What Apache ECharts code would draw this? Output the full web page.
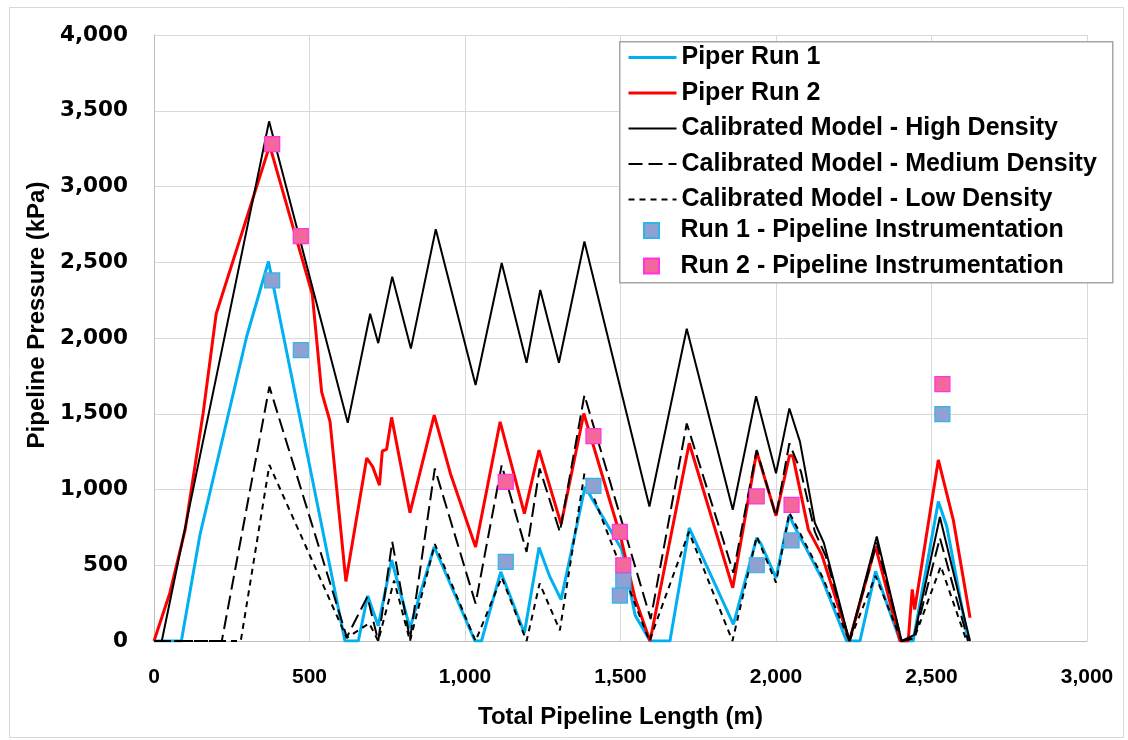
<!DOCTYPE html>
<html>
<head>
<meta charset="utf-8">
<script src="https://cdn.jsdelivr.net/npm/echarts@6/dist/echarts.min.js"></script>
<style>
html,body{margin:0;padding:0;background:#fff;}
#chart{width:1128px;height:740px;}
</style>
</head>
<body>
<div id="chart"></div>
<script>
// ---- data (x: total pipeline length m, y: pressure kPa) ----
const xTicks = [0, 500, 1000, 1500, 2000, 2500, 3000];
const yTicks = [0, 500, 1000, 1500, 2000, 2500, 3000, 3500, 4000];

const run1X = [0, 88, 148, 298, 368, 614, 657, 687, 721, 764, 823, 901, 1032, 1053, 1115, 1191, 1238, 1273, 1309, 1386, 1505, 1547, 1595, 1659, 1721, 1863, 1938, 1952, 2000, 2043, 2056, 2099, 2149, 2227, 2270, 2320, 2399, 2441, 2522, 2549, 2618];
const run1Y = [0, 0, 703, 2010, 2505, 0, 0, 299, 100, 535, 85, 622, 0, 0, 456, 53, 617, 423, 273, 1018, 600, 170, 0, 0, 746, 110, 680, 640, 417, 833, 768, 603, 406, 0, 0, 460, 0, 0, 921, 757, 0];

const run2X = [0, 51, 100, 158, 200, 372, 509, 539, 566, 617, 684, 703, 725, 734, 748, 764, 823, 901, 953, 1034, 1113, 1191, 1238, 1309, 1382, 1500, 1547, 1595, 1721, 1861, 1938, 2000, 2043, 2054, 2104, 2147, 2236, 2320, 2399, 2425, 2438, 2446, 2522, 2570, 2624];
const run2Y = [0, 317, 733, 1504, 2160, 3270, 2288, 1644, 1449, 393, 1208, 1151, 1029, 1254, 1265, 1476, 846, 1491, 1106, 621, 1447, 841, 1260, 771, 1502, 690, 280, 0, 1305, 351, 1250, 827, 1222, 1222, 735, 570, 0, 625, 0, 0, 340, 208, 1195, 800, 154];

const highX = [0, 25, 370, 623, 695, 721, 766, 826, 906, 1034, 1118, 1198, 1242, 1302, 1384, 1593, 1713, 1861, 1936, 2000, 2043, 2077, 2125, 2154, 2236, 2324, 2404, 2445, 2527, 2624];
const highY = [0, 0, 3430, 1440, 2160, 1966, 2405, 1930, 2718, 1690, 2495, 1837, 2317, 1837, 2637, 888, 2061, 866, 1616, 1107, 1535, 1316, 779, 647, 0, 690, 0, 40, 818, 0];

const medX = [0, 218, 371, 620, 686, 721, 766, 823, 903, 1034, 1118, 1198, 1240, 1305, 1384, 1597, 1713, 1863, 1938, 2000, 2043, 2080, 2125, 2160, 2236, 2324, 2404, 2445, 2527, 2618];
const medY = [0, 0, 1679, 25, 292, 0, 655, 10, 1139, 247, 1161, 588, 1139, 720, 1623, 145, 1436, 450, 1261, 822, 1305, 1120, 720, 560, 0, 650, 0, 20, 680, 0];

const lowX = [0, 279, 371, 620, 692, 721, 772, 823, 903, 1034, 1118, 1198, 1240, 1305, 1384, 1593, 1720, 1860, 1938, 2000, 2043, 2080, 2150, 2236, 2320, 2404, 2445, 2530, 2613];
const lowY = [0, 0, 1162, 20, 117, 0, 400, 0, 640, 0, 420, 0, 380, 70, 1106, 0, 720, 0, 690, 385, 847, 700, 420, 0, 430, 0, 20, 493, 0];

const inst1X = [380, 472, 1131, 1413, 1509, 1498, 1938, 2050, 2535];
const inst1Y = [2380, 1920, 522, 1024, 400, 300, 500, 664, 1498];
const inst2X = [380, 472, 1131, 1413, 1498, 1509, 1938, 2050, 2535];
const inst2Y = [3280, 2673, 1050, 1352, 720, 500, 954, 899, 1695];

const seriesNames = [
  'Piper Run 1', 'Piper Run 2',
  'Calibrated Model - High Density', 'Calibrated Model - Medium Density', 'Calibrated Model - Low Density',
  'Run 1 - Pipeline Instrumentation', 'Run 2 - Pipeline Instrumentation'
];

function pairs(xs, ys) { return xs.map((x, i) => [x, ys[i]]); }

const FONT = 'Liberation Sans';

const lineStyles = [
  { color: '#00B0F0', width: 3, type: 'solid' },
  { color: '#FF0000', width: 3, type: 'solid' },
  { color: '#000000', width: 2, type: 'solid' },
  { color: '#000000', width: 2, type: [14, 6] },
  { color: '#000000', width: 2, type: [6, 5] }
];

const lineSeries = (name, xs, ys, ls) => ({
  name, type: 'line', data: pairs(xs, ys), symbol: 'none', showSymbol: false,
  lineStyle: ls, itemStyle: { color: ls.color }, z: 2, animation: false
});
const scatterSeries = (name, xs, ys, fill, border) => ({
  name, type: 'scatter', data: pairs(xs, ys), symbol: 'rect', symbolSize: 15,
  itemStyle: { color: fill, borderColor: border, borderWidth: 1.2, opacity: 1 }, z: 5, animation: false
});

const legendText = { fontFamily: FONT, fontWeight: 'bold', fontSize: 25, color: '#000', lineHeight: 24 };

const chart = echarts.init(document.getElementById('chart'), null, { renderer: 'canvas' });
chart.setOption({
  backgroundColor: '#ffffff',
  animation: false,
  graphic: [
    { type: 'rect', left: 7, top: 5, z: -1,
      shape: { width: 1114, height: 730 },
      style: { fill: 'none', stroke: '#D9D9D9', lineWidth: 1 } },
    { type: 'rect', left: 619, top: 41, z: 3,
      shape: { width: 493, height: 241 },
      style: { fill: '#ffffff', stroke: '#A6A6A6', lineWidth: 1.5 } }
  ],
  grid: { left: 154, right: 41, top: 35, bottom: 99, containLabel: false },
  xAxis: {
    type: 'value', min: xTicks[0], max: xTicks[xTicks.length - 1], interval: xTicks[1] - xTicks[0],
    name: 'Total Pipeline Length (m)', nameLocation: 'middle', nameGap: 64,
    nameTextStyle: { fontFamily: FONT, fontWeight: 'bold', fontSize: 24, color: '#000' },
    axisLine: { show: true, lineStyle: { color: '#BFBFBF', width: 1 } },
    axisTick: { show: false },
    splitLine: { show: true, lineStyle: { color: '#D9D9D9', width: 1 } },
    axisLabel: {
      margin: 26, fontFamily: FONT, fontWeight: 'bold', fontSize: 21, color: '#000',
      formatter: v => v.toLocaleString('en-US')
    }
  },
  yAxis: {
    type: 'value', min: yTicks[0], max: yTicks[yTicks.length - 1], interval: yTicks[1] - yTicks[0],
    name: 'Pipeline Pressure (kPa)', nameLocation: 'middle', nameGap: 104, nameRotate: 90,
    nameTextStyle: { fontFamily: FONT, fontWeight: 'bold', fontSize: 24, color: '#000', padding: [0, 0, 0, 46] },
    axisLine: { show: true, lineStyle: { color: '#BFBFBF', width: 1 } },
    axisTick: { show: false },
    splitLine: { show: true, lineStyle: { color: '#D9D9D9', width: 1 } },
    axisLabel: {
      margin: 26, fontFamily: 'DejaVu Sans', fontWeight: 'bold', fontSize: 21.5, color: '#000',
      formatter: v => v.toLocaleString('en-US')
    }
  },
  legend: [
    {
      orient: 'vertical', left: 627, top: 45, z: 4,
      padding: 0, itemGap: 10.5, itemWidth: 48, itemHeight: 15,
      textStyle: legendText,
      data: seriesNames.slice(0, 5).map((n, i) => ({
        name: n, itemStyle: { opacity: 0 },
        lineStyle: { color: lineStyles[i].color, width: lineStyles[i].width, type: lineStyles[i].type }
      }))
    },
    {
      orient: 'vertical', left: 643, top: 218, z: 4,
      padding: 0, itemGap: 10.5, itemWidth: 48, itemHeight: 15,
      symbolKeepAspect: true,
      textStyle: legendText,
      data: seriesNames.slice(5).map(n => ({ name: n, icon: 'path://M0,0L10,0L10,10L0,10Z' }))
    }
  ],
  series: [
    lineSeries(seriesNames[0], run1X, run1Y, lineStyles[0]),
    lineSeries(seriesNames[1], run2X, run2Y, lineStyles[1]),
    lineSeries(seriesNames[2], highX, highY, lineStyles[2]),
    lineSeries(seriesNames[3], medX, medY, lineStyles[3]),
    lineSeries(seriesNames[4], lowX, lowY, lineStyles[4]),
    scatterSeries(seriesNames[5], inst1X, inst1Y, '#8FA1D3', '#2EB6EA'),
    scatterSeries(seriesNames[6], inst2X, inst2Y, '#F4679A', '#FF33E6')
  ]
});
</script>
</body>
</html>
